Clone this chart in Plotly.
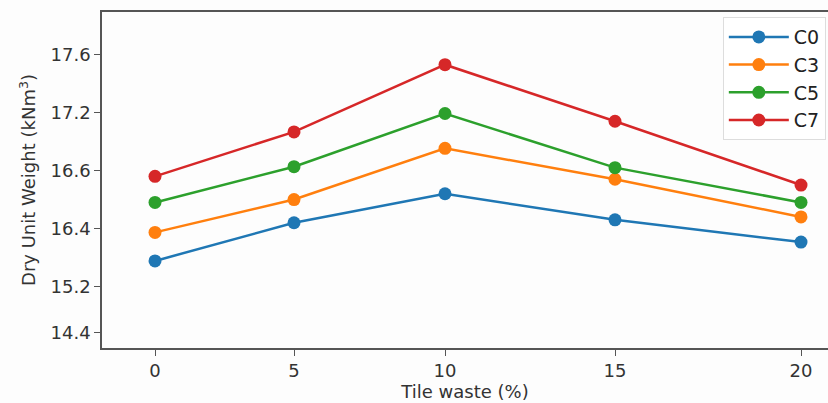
import numpy as np
import plotly.graph_objects as go

# ---- data ----
tile_waste = [0, 5, 10, 15, 20]
C0 = [15.73, 16.42, 16.52, 16.43, 16.12]
C3 = [16.32, 16.50, 16.83, 16.57, 16.44]
C5 = [16.49, 16.64, 17.19, 16.63, 16.49]
C7 = [16.58, 17.00, 17.53, 17.11, 16.55]
series_names = ["C0", "C3", "C5", "C7"]
series_colors = ["#1f77b4", "#ff7f0e", "#2ca02c", "#d62728"]

y_tick_labels = [14.4, 15.2, 16.4, 16.6, 17.2, 17.6]
x_tick_labels = [0, 5, 10, 15, 20]

# ---- the reference's (non-uniform) axis scales ----
y_scale_pos = [0.0, 0.8, 1.8, 2.8, 3.8, 4.8]
x_scale_pos = [0.0, 1.39, 2.90, 4.60, 6.46]


def ymap(v):
    return np.interp(v, y_tick_labels, y_scale_pos)


def xmap(v):
    return np.interp(v, x_tick_labels, x_scale_pos)


fig = go.Figure()
for name, vals, col in zip(series_names, [C0, C3, C5, C7], series_colors):
    fig.add_trace(go.Scatter(
        x=xmap(tile_waste), y=ymap(vals), mode="lines+markers", name=name,
        line=dict(color=col, width=2.5),
        marker=dict(color=col, size=13),
        customdata=vals,
        hovertemplate="%{customdata}<extra>" + name + "</extra>",
    ))

font_family = "DejaVu Sans, sans-serif"
fig.update_layout(
    width=828, height=403,
    margin=dict(l=102, r=0, t=12, b=55),
    paper_bgcolor="#fdfdfd", plot_bgcolor="#fdfdfd",
    font=dict(family=font_family, size=18, color="#333333"),
    showlegend=True,
    legend=dict(
        x=0.997, y=0.985, xanchor="right", yanchor="top",
        bgcolor="rgba(255,255,255,0.9)", bordercolor="#dddddd", borderwidth=1,
        font=dict(size=19, color="#222222"),
        itemwidth=60, entrywidth=128, tracegroupgap=2,
    ),
    xaxis=dict(
        range=[-0.53, 6.73], automargin=False,
        tickmode="array", tickvals=list(xmap(x_tick_labels)),
        ticktext=[str(t) for t in x_tick_labels],
        showgrid=False, zeroline=False,
        showline=True, linecolor="#555555", linewidth=1.5, mirror=True,
        ticks="outside", ticklen=6, tickwidth=1.2, tickcolor="#555555",
        title=dict(text="Tile waste (%)", font=dict(size=18, color="#333333"), standoff=0),
    ),
    yaxis=dict(
        range=[-0.26, 5.534], automargin=False,
        tickmode="array", tickvals=list(ymap(y_tick_labels)),
        ticktext=[f"{t:.1f}" for t in y_tick_labels],
        showgrid=False, zeroline=False,
        showline=True, linecolor="#555555", linewidth=1.5,
        ticks="outside", ticklen=6, tickwidth=1.2, tickcolor="#555555",
        title=dict(text="Dry Unit Weight (kNm<sup>3</sup>)", font=dict(size=18, color="#333333"), standoff=10),
    ),
)

fig.write_html("out.html", config={"displayModeBar": False},
               post_script="document.body.style.margin='0';")
